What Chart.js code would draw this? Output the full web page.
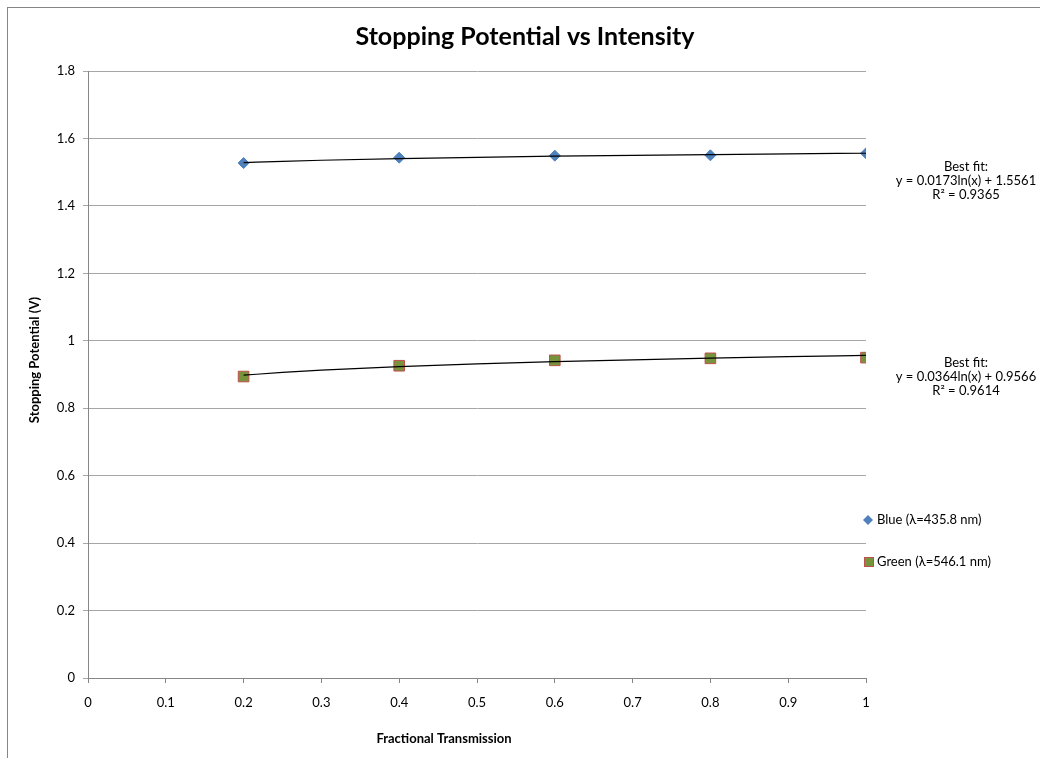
<!DOCTYPE html>
<html><head><meta charset="utf-8">
<script src="https://cdn.jsdelivr.net/npm/chart.js@4.4.0/dist/chart.umd.min.js"></script>
<style>html,body{margin:0;padding:0;background:#fff;overflow:hidden}#wrap{position:absolute;left:0;top:0;width:1040px;height:758px}</style>
</head><body><div id="wrap"><canvas id="c" width="1040" height="758"></canvas></div>
<script>
const transmission = [0.2, 0.4, 0.6, 0.8, 1.0];
const blueVoltage = [1.527, 1.543, 1.549, 1.550, 1.556];
const greenVoltage = [0.894, 0.926, 0.942, 0.948, 0.950];
const fitX = [0.2, 0.25, 0.3, 0.4, 0.5, 0.6, 0.7, 0.8, 0.9, 1.0];
const blueFit = [1.5283, 1.5321, 1.5353, 1.5402, 1.5441, 1.5473, 1.5499, 1.5522, 1.5543, 1.5561];
const greenFit = [0.8980, 0.9061, 0.9128, 0.9232, 0.9314, 0.9380, 0.9436, 0.9485, 0.9528, 0.9566];
const xTickLabels = ['0', '0.1', '0.2', '0.3', '0.4', '0.5', '0.6', '0.7', '0.8', '0.9', '1'];
const yTickLabels = ['0', '0.2', '0.4', '0.6', '0.8', '1', '1.2', '1.4', '1.6', '1.8'];
const seriesNames = ['Blue (λ=435.8 nm)', 'Green (λ=546.1 nm)'];
const blueFitText = ['Best fit:', 'y = 0.0173ln(x) + 1.5561', 'R² = 0.9365'];
const greenFitText = ['Best fit:', 'y = 0.0364ln(x) + 0.9566', 'R² = 0.9614'];
const chartTitle = 'Stopping Potential vs Intensity';
const xTitle = 'Fractional Transmission';
const yTitle = 'Stopping Potential (V)';

const FONT = 'Lato, "Open Sans", sans-serif';
const BLUE = '#4f81bd', GREEN = '#77933c', RED = '#c0504d';

const pts = (xs, ys) => xs.map((x, i) => ({x: x, y: ys[i]}));

const decor = {
  id: 'decor',
  beforeDraw(chart) {
    const ctx = chart.ctx;
    ctx.save();
    ctx.strokeStyle = '#868686';
    ctx.lineWidth = 1;
    ctx.strokeRect(7.5, 7.5, 1200, 1200);
    ctx.restore();
  },
  afterDraw(chart) {
    const ctx = chart.ctx;
    ctx.save();
    ctx.fillStyle = '#000';
    ctx.textAlign = 'center';
    ctx.textBaseline = 'middle';
    ctx.font = 'bold 25px ' + FONT;
    ctx.fillText(chartTitle, 525, 37);
    ctx.font = 'bold 13px ' + FONT;
    ctx.fillText(xTitle, 444, 739);
    ctx.save();
    ctx.translate(35, 360);
    ctx.rotate(-Math.PI / 2);
    ctx.fillText(yTitle, 0, 0);
    ctx.restore();
    ctx.font = '13px ' + FONT;
    blueFitText.forEach((t, i) => ctx.fillText(t, 966, 167 + i * 14));
    greenFitText.forEach((t, i) => ctx.fillText(t, 966, 363 + i * 14));
    // legend
    ctx.textAlign = 'left';
    const ly1 = 520, ly2 = 562;
    ctx.fillStyle = BLUE;
    ctx.beginPath();
    ctx.moveTo(868, ly1 - 5); ctx.lineTo(873, ly1); ctx.lineTo(868, ly1 + 5); ctx.lineTo(863, ly1);
    ctx.closePath(); ctx.fill();
    ctx.fillStyle = GREEN;
    ctx.fillRect(864, ly2 - 5, 10, 10);
    ctx.strokeStyle = RED; ctx.lineWidth = 1;
    ctx.strokeRect(864.5, ly2 - 4.5, 9, 9);
    ctx.fillStyle = '#000';
    ctx.fillText(seriesNames[0], 877, ly1);
    ctx.fillText(seriesNames[1], 877, ly2);
    ctx.restore();
  }
};

new Chart(document.getElementById('c'), {
  type: 'scatter',
  data: {
    datasets: [
      {label: 'Blue fit', data: pts(fitX, blueFit), showLine: true, borderColor: '#000', borderWidth: 1.2, pointRadius: 0, cubicInterpolationMode: 'monotone', order: 0},
      {label: 'Green fit', data: pts(fitX, greenFit), showLine: true, borderColor: '#000', borderWidth: 1.2, pointRadius: 0, cubicInterpolationMode: 'monotone', order: 0},
      {label: seriesNames[0], data: pts(transmission, blueVoltage), pointStyle: 'rectRot', pointRadius: 5.5, backgroundColor: BLUE, borderColor: BLUE, borderWidth: 1, order: 1},
      {label: seriesNames[1], data: pts(transmission, greenVoltage), pointStyle: 'rect', pointRadius: 7.5, backgroundColor: GREEN, borderColor: RED, borderWidth: 1, order: 1}
    ]
  },
  options: {
    responsive: false,
    animation: false,
    devicePixelRatio: 1,
    layout: {padding: {left: 0, right: 174, top: 71, bottom: 0}},
    plugins: {legend: {display: false}, tooltip: {enabled: false}, title: {display: false}},
    scales: {
      x: {
        type: 'linear', min: 0, max: 1,
        afterFit(s) { s.height = 80; },
        ticks: {stepSize: 0.1, color: '#000', font: {family: FONT, size: 13}, padding: 12, maxRotation: 0,
          callback: (v, i) => xTickLabels[i]},
        grid: {drawOnChartArea: false, drawTicks: true, tickLength: 5, color: '#868686'},
        border: {color: '#868686', width: 1}
      },
      y: {
        min: 0, max: 1.8,
        afterFit(s) { s.width = 88; },
        ticks: {stepSize: 0.2, color: '#000', font: {family: FONT, size: 13}, padding: 8,
          callback: (v, i) => yTickLabels[i]},
        grid: {color: '#a6a6a6', tickLength: 5, drawTicks: true},
        border: {color: '#868686', width: 1}
      }
    }
  },
  plugins: [decor]
});
</script></body></html>
